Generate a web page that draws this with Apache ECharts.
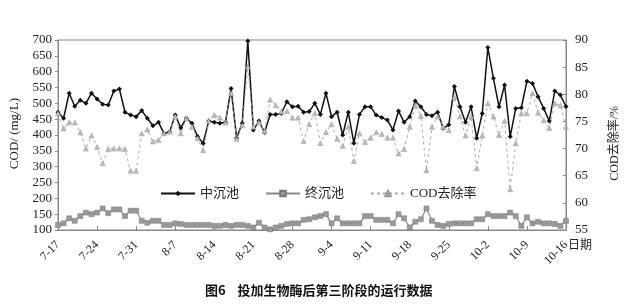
<!DOCTYPE html>
<html><head><meta charset="utf-8">
<script src="https://cdn.jsdelivr.net/npm/echarts@6/dist/echarts.min.js"></script>
<style>html,body{margin:0;padding:0;background:#fff}#c{width:627px;height:305px}</style>
</head><body><div id="c"></div>
<script>
const dates = [
'7-17','7-18','7-19','7-20','7-21','7-22','7-23','7-24','7-25','7-26','7-27','7-28','7-29','7-30','7-31',
'8-1','8-2','8-3','8-4','8-5','8-6','8-7','8-8','8-9','8-10','8-11','8-12','8-13','8-14','8-15','8-16','8-17','8-18','8-19','8-20','8-21','8-22','8-23','8-24','8-25','8-26','8-27','8-28','8-29','8-30','8-31',
'9-1','9-2','9-3','9-4','9-5','9-6','9-7','9-8','9-9','9-10','9-11','9-12','9-13','9-14','9-15','9-16','9-17','9-18','9-19','9-20','9-21','9-22','9-23','9-24','9-25','9-26','9-27','9-28','9-29','9-30',
'10-1','10-2','10-3','10-4','10-5','10-6','10-7','10-8','10-9','10-10','10-11','10-12','10-13','10-14','10-15','10-16'];
const midTank = [
472,453,532,491,510,500,532,514,497,495,539,545,472,463,458,477,453,429,440,405,
410,463,423,453,437,395,374,444,440,437,440,547,390,437,697,416,444,408,465,465,
468,505,489,491,472,474,500,465,532,458,472,400,472,374,465,489,489,463,455,447,
416,476,440,458,507,489,465,461,472,421,432,553,489,440,489,390,468,676,579,489,
558,395,484,486,570,563,521,484,444,539,526,490];
const finalTank = [
116,121,137,129,144,155,150,155,168,153,165,165,144,161,161,129,123,129,129,116,
116,121,119,116,116,116,116,116,113,113,116,113,116,116,113,108,123,108,102,108,
113,119,121,121,132,134,140,144,150,121,137,121,121,121,121,144,144,132,132,132,
121,150,137,108,126,134,168,129,116,113,119,121,121,121,121,134,134,150,144,144,
144,155,144,113,140,121,126,121,121,119,113,129];
const removal = [
76.5,73.7,74.8,74.8,73.0,70.0,72.4,70.3,67.3,69.9,70.0,70.0,69.9,65.9,65.9,72.8,73.5,71.3,71.6,72.8,
73.1,75.9,72.8,75.6,74.0,71.9,69.7,75.1,76.2,75.7,74.8,80.2,71.8,74.3,85.1,74.0,74.8,73.2,79.0,78.0,
76.8,76.9,75.7,75.7,71.4,74.5,76.5,71.0,73.0,74.5,71.8,70.5,74.0,67.7,72.8,71.2,72.0,73.0,72.7,72.0,
72.0,69.1,69.9,74.0,78.0,76.0,66.0,74.0,75.9,74.0,73.4,79.5,75.9,72.4,75.9,66.4,72.4,78.3,75.9,72.5,
75.1,62.5,71.0,76.5,76.5,80.2,76.6,75.2,73.8,78.3,78.0,74.0];
const leftTicks = {min:100, max:700, step:50};
const rightTicks = {min:55, max:90, step:5};

const serif = '"Liberation Serif","Noto Sans CJK SC",serif';
const chart = echarts.init(document.getElementById('c'));
chart.setOption({
  animation:false,
  backgroundColor:'#fff',
  grid:{left:58,right:61,top:40,bottom:75,show:true,borderColor:'#888',borderWidth:1},
  legend:{
    left:155, top:182, itemWidth:34, itemHeight:7, itemGap:26,
    textStyle:{fontFamily:serif,fontSize:13,color:'#222'},
    data:['中沉池','终沉池','COD去除率']
  },
  xAxis:{
    type:'category', data:dates, boundaryGap:false,
    axisLine:{lineStyle:{color:'#888'}},
    axisTick:{inside:true,length:4,interval:6,lineStyle:{color:'#888'}},
    axisLabel:{interval:6,rotate:45,fontFamily:serif,fontSize:12,color:'#222',margin:13}
  },
  yAxis:[
    {type:'value',min:leftTicks.min,max:leftTicks.max,interval:leftTicks.step,
     axisLine:{show:true,lineStyle:{color:'#888'}},
     axisTick:{show:true,length:3,lineStyle:{color:'#888'}},
     splitLine:{show:false},
     axisLabel:{fontFamily:serif,fontSize:13,color:'#222',margin:6}},
    {type:'value',min:rightTicks.min,max:rightTicks.max,interval:rightTicks.step,position:'right',
     axisLine:{show:true,lineStyle:{color:'#888'}},
     axisTick:{show:true,inside:true,length:3,lineStyle:{color:'#888'}},
     splitLine:{show:false},
     axisLabel:{fontFamily:serif,fontSize:13,color:'#222',margin:9}}
  ],
  graphic:[
    {type:'text',left:8,top:98,rotation:Math.PI/2,
     style:{text:'COD/ (mg/L)',font:'13px '+serif,fill:'#222'}},
    {type:'text',left:609,top:106,rotation:Math.PI/2,
     style:{text:'COD去除率/%',font:'12px '+serif,fill:'#222'}},
    {type:'text',left:568,top:240,
     style:{text:'日期',font:'12px '+serif,fill:'#222'}},
    {type:'text',left:205,top:284,
     style:{text:'图6    投加生物酶后第三阶段的运行数据',font:'bold 13px "Noto Sans CJK SC",sans-serif',fill:'#111'}}
  ],
  series:[
    {name:'中沉池',type:'line',yAxisIndex:0,data:midTank,symbol:'diamond',symbolSize:5,showAllSymbol:true,
     lineStyle:{color:'#111',width:1.5},itemStyle:{color:'#111'}},
    {name:'终沉池',type:'line',yAxisIndex:0,data:finalTank,symbol:'rect',symbolSize:5,showAllSymbol:true,
     lineStyle:{color:'#8a8a8a',width:1.2},itemStyle:{color:'#999',borderColor:'#777',borderWidth:0.5}},
    {name:'COD去除率',type:'line',yAxisIndex:1,data:removal,symbol:'triangle',symbolSize:5,showAllSymbol:true,
     lineStyle:{color:'#aaa',width:1,type:[3,3]},itemStyle:{color:'#bbb',borderColor:'#999',borderWidth:0.5}}
  ]
});
</script></body></html>
